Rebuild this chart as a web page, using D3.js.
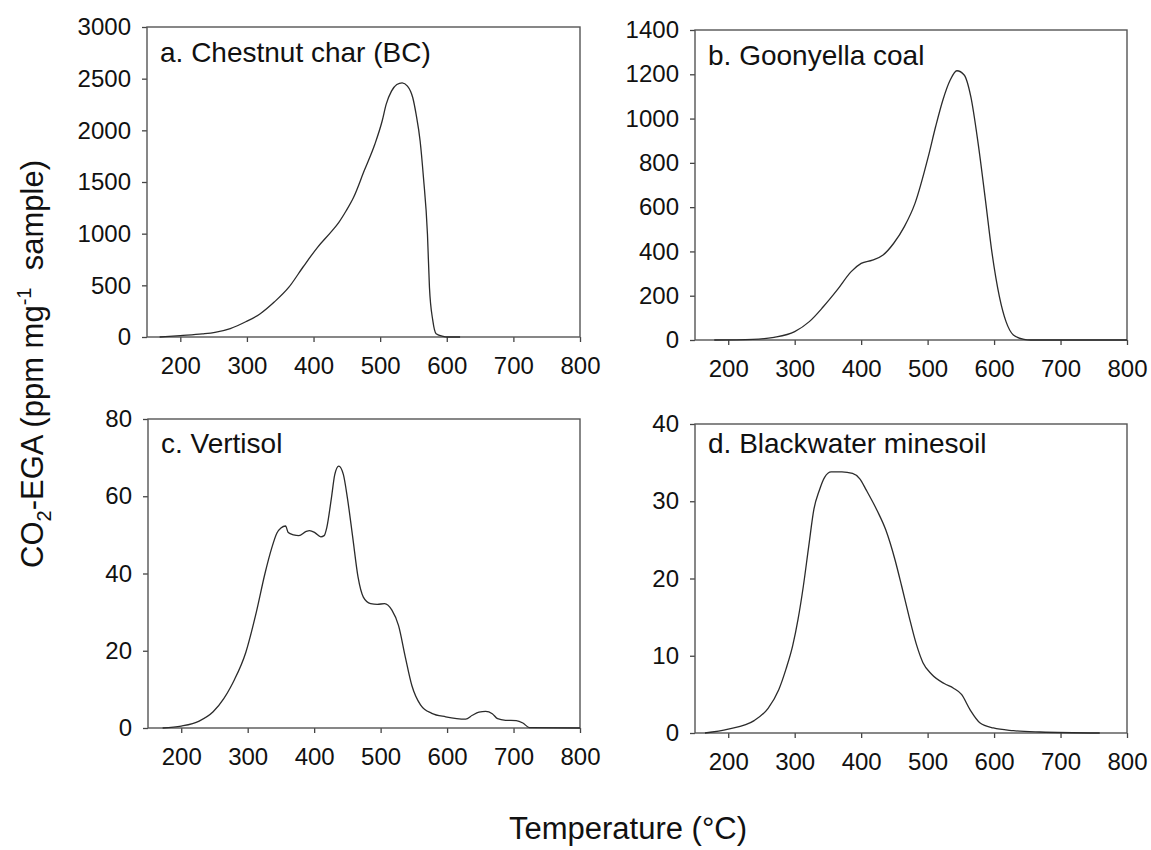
<!DOCTYPE html>
<meta charset="utf-8">
<html>
<head>
  <title>CO2-EGA thermograms</title>
  <script src="https://d3js.org/d3.v7.min.js"></script>
  <style>
    body { margin: 0; background: #fff; }
    svg text { font-family: "Liberation Sans", Arial, sans-serif; fill: #111; }
  </style>
</head>
<body>
<div id="chart"></div>
<script>

// --- data (temperature in deg C, CO2 in ppm per mg sample) ---
var xTicks = [200, 300, 400, 500, 600, 700, 800];

var tempA = [169, 200, 233, 252, 275, 299, 320, 341, 363, 384, 406, 428, 438, 449, 460, 476, 492, 503, 509, 517, 525, 533, 541, 549, 554, 560, 565, 571, 574, 579, 584, 595, 600, 620];
var co2A  = [0, 14, 30, 45, 82, 150, 225, 338, 482, 675, 868, 1029, 1110, 1222, 1350, 1608, 1865, 2090, 2251, 2379, 2444, 2460, 2428, 2315, 2154, 1897, 1543, 997, 482, 161, 32, 6, 0, 0];
var yTicksA = [0, 500, 1000, 1500, 2000, 2500, 3000];

var tempB = [179, 237, 269, 300, 322, 343, 364, 385, 400, 417, 433, 449, 465, 481, 501, 512, 523, 534, 544, 555, 565, 576, 587, 597, 608, 618, 629, 645, 655, 700, 800];
var co2B  = [0, 3, 12, 38, 83, 150, 226, 309, 346, 361, 384, 437, 512, 617, 828, 963, 1084, 1174, 1216, 1197, 1099, 888, 632, 391, 196, 83, 23, 3, 0, 0, 0];
var yTicksB = [0, 200, 400, 600, 800, 1000, 1200, 1400];

var tempC = [172, 200, 227, 248, 264, 274, 280, 297, 313, 326, 336, 344, 350, 357, 361, 369, 377, 388, 393, 401, 410, 415, 419, 426, 431, 437, 444, 450, 458, 466, 474, 485, 495, 506, 517, 527, 537, 547, 560, 577, 598, 628, 638, 648, 658, 668, 676, 688, 704, 714, 724, 800];
var co2C  = [0, 0.5, 1.8, 4.2, 7.6, 10.5, 12.5, 19.5, 30, 40, 46.5, 50.5, 51.8, 52.3, 50.6, 50, 49.8, 50.9, 51.1, 50.6, 49.5, 49.8, 51.9, 59.6, 65.6, 67.8, 65.6, 59.6, 49.4, 39.1, 33.9, 32.2, 32, 32.2, 30.5, 26.5, 18.5, 11, 6, 3.8, 2.9, 2.3, 3.3, 4.1, 4.3, 3.7, 2.4, 2.0, 1.9, 1.3, 0.1, 0];
var yTicksC = [0, 20, 40, 60, 80];

var tempD = [165, 200, 239, 260, 276, 287, 297, 305, 313, 321, 329, 337, 345, 355, 371, 387, 398, 408, 424, 437, 451, 461, 472, 483, 493, 506, 525, 539, 551, 564, 579, 599, 629, 669, 759];
var co2D  = [0, 0.5, 1.6, 3.2, 5.6, 8.3, 11.3, 14.7, 19, 24.1, 29, 31.4, 33.1, 33.8, 33.8, 33.6, 32.9, 31.4, 28.8, 26.3, 22.4, 19, 15.1, 11.5, 9.1, 7.6, 6.4, 5.8, 5.0, 3.0, 1.3, 0.65, 0.3, 0.13, 0];
var yTicksD = [0, 10, 20, 30, 40];

var titles = ["a. Chestnut char (BC)", "b. Goonyella coal", "c. Vertisol", "d. Blackwater minesoil"];

// --- layout ---
var W = 1151, H = 850;
var svg = d3.select("#chart").append("svg")
    .attr("width", W)
    .attr("height", H);

var panels = [
  {temp: tempA, co2: co2A, ticks: yTicksA, title: titles[0], left: 147, right: 580, top: 27, bottom: 337, titleY: 62},
  {temp: tempB, co2: co2B, ticks: yTicksB, title: titles[1], left: 695, right: 1127, top: 30, bottom: 340, titleY: 65},
  {temp: tempC, co2: co2C, ticks: yTicksC, title: titles[2], left: 148, right: 580, top: 419, bottom: 728, titleY: 453},
  {temp: tempD, co2: co2D, ticks: yTicksD, title: titles[3], left: 695, right: 1127, top: 424, bottom: 733, titleY: 453}
];

panels.forEach(function(p) {
  var x = d3.scaleLinear().domain([150, 800]).range([p.left, p.right]);
  var y = d3.scaleLinear().domain([0, d3.max(p.ticks)]).range([p.bottom, p.top]);

  var g = svg.append("g");

  // x axis
  var xa = g.append("g")
      .attr("transform", "translate(0," + p.bottom + ")")
      .call(d3.axisBottom(x).tickValues(xTicks).tickFormat(d3.format("d"))
        .tickSize(5).tickPadding(15).tickSizeOuter(0));
  // y axis
  var ya = g.append("g")
      .attr("transform", "translate(" + p.left + ",0)")
      .call(d3.axisLeft(y).tickValues(p.ticks).tickFormat(d3.format("d"))
        .tickSize(5).tickPadding(11).tickSizeOuter(0));

  [xa, ya].forEach(function(a) {
    a.select(".domain").remove();
    a.selectAll(".tick line").attr("stroke", "#444").attr("stroke-width", 1.3);
    a.selectAll("text").style("font-size", "24px").attr("fill", "#111");
  });

  // frame
  g.append("rect")
      .attr("x", p.left).attr("y", p.top)
      .attr("width", p.right - p.left).attr("height", p.bottom - p.top)
      .attr("fill", "none").attr("stroke", "#555").attr("stroke-width", 1.4);

  // curve
  var pts = p.temp.map(function(t, i) { return [t, p.co2[i]]; });
  var line = d3.line()
      .x(function(d) { return x(d[0]); })
      .y(function(d) { return y(d[1]); })
      .curve(d3.curveMonotoneX);
  g.append("path")
      .datum(pts)
      .attr("d", line)
      .attr("fill", "none")
      .attr("stroke", "#2b2b2b")
      .attr("stroke-width", 1.3);

  // panel title
  g.append("text")
      .attr("x", p.left + 13)
      .attr("y", p.titleY)
      .style("font-size", "28px")
      .text(p.title);
});

// shared axis titles
svg.append("text")
    .attr("x", 628).attr("y", 839)
    .attr("text-anchor", "middle")
    .style("font-size", "31px")
    .text("Temperature (\u00B0C)");

var yl = svg.append("text")
    .attr("transform", "translate(43,364) rotate(-90)")
    .attr("text-anchor", "middle")
    .style("font-size", "31px");
yl.append("tspan").text("CO");
yl.append("tspan").attr("dy", 8).style("font-size", "20px").text("2");
yl.append("tspan").attr("dy", -8).text("-EGA (ppm mg");
yl.append("tspan").attr("dy", -12).style("font-size", "20px").text("-1");
yl.append("tspan").attr("dy", 12).text("\u00A0 sample)");

</script>
</body>
</html>
